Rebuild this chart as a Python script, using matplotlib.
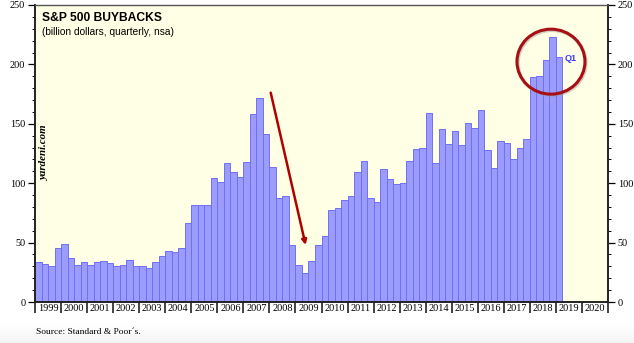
"""S&P 500 buybacks, quarterly bars 1999Q1-2019Q1 (yardeni style)."""
import numpy as np
import matplotlib.pyplot as plt
import matplotlib.patches as mpatches

# quarterly values, billion dollars
buybacks = [
    34.0, 31.7, 30.3, 45.2,      # 1999
    48.6, 37.4, 30.9, 33.7,      # 2000
    31.5, 33.7, 34.6, 32.9,      # 2001
    30.6, 30.9, 35.1, 30.6,      # 2002
    30.1, 28.4, 34.0, 38.5,      # 2003
    43.0, 42.4, 45.8, 66.3,      # 2004
    82.0, 81.5, 81.5, 104.5,     # 2005
    100.6, 116.6, 109.8, 105.1,  # 2006
    117.7, 158.0, 172.0, 141.7,  # 2007
    114.0, 87.9, 89.6, 48.3,     # 2008
    30.9, 24.2, 34.8, 48.0,      # 2009
    55.3, 77.5, 79.5, 86.2,      # 2010
    89.6, 109.3, 118.3, 87.6,    # 2011
    84.3, 111.8, 103.7, 99.4,    # 2012
    100.5, 118.4, 128.5, 129.9,  # 2013
    159.4, 116.6, 145.3, 133.2,  # 2014
    144.2, 132.1, 150.7, 146.2,  # 2015
    161.6, 127.9, 112.7, 135.8,  # 2016
    133.8, 120.6, 129.3, 137.5,  # 2017
    189.1, 190.5, 204.0, 223.3,  # 2018
    206.0,                       # 2019 Q1
]
years = list(range(1999, 2021))
start_year = 1999

bg = "#FFFFE5"
fig = plt.figure(figsize=(6.34, 3.43), dpi=100)

# faint grey fade along the bottom edge
fade = fig.add_axes([0, 0, 1, 20 / 343], zorder=-5)
fade.imshow(np.linspace(0, 1, 50).reshape(-1, 1), aspect="auto", cmap="Greys",
            vmin=0, vmax=12, origin="upper", extent=[0, 1, 0, 1])
fade.axis("off")

ax = fig.add_axes([35 / 634, 1 - 302 / 343, 573 / 634, 297 / 343])
ax.set_facecolor(bg)

x = start_year + (np.arange(len(buybacks)) + 0.5) / 4
ax.bar(x, buybacks, width=0.25, color="#9c9cff", edgecolor="#7070f6", linewidth=0.7)

ax.set_xlim(start_year, years[-1] + 1)
ax.set_ylim(0, 250)

serif = "Liberation Serif"
# x axis: tick marks at year boundaries, labels centered on each year
ax.set_xticks(list(years) + [years[-1] + 1])
ax.set_xticklabels([])
ax.set_xticks([y + 0.5 for y in years], minor=True)
ax.set_xticklabels([str(y) for y in years], minor=True, fontsize=7.4, family=serif)
ax.tick_params(axis="x", which="major", direction="out", length=8, width=1.2, color="#222222")
ax.tick_params(axis="x", which="minor", length=0, pad=1.5)

# y axis: both sides
ax.set_yticks(range(0, 251, 50))
ax.set_yticks(range(0, 251, 10), minor=True)
ax.tick_params(axis="y", which="major", direction="out", length=5, width=0.9,
               labelsize=7.4, left=True, right=True, labelleft=True, labelright=True, pad=2)
ax.tick_params(axis="y", which="minor", direction="out", length=2.5, width=0.7,
               left=True, right=True)
for lab in ax.get_yticklabels():
    lab.set_family(serif)

for side in ["left", "right", "bottom"]:
    ax.spines[side].set_linewidth(1.4)
    ax.spines[side].set_color("#222222")
ax.spines["top"].set_linewidth(1.0)
ax.spines["top"].set_color("#555555")

# titles
ax.text(0.012, 0.978, "S&P 500 BUYBACKS", transform=ax.transAxes, fontsize=8.7,
        fontweight="bold", family="Liberation Sans", va="top", ha="left")
ax.text(0.012, 0.925, "(billion dollars, quarterly, nsa)", transform=ax.transAxes,
        fontsize=7.3, family="Liberation Sans", va="top", ha="left")
ax.text(0.016, 0.50, "yardeni.com", transform=ax.transAxes, rotation=90, fontsize=7.8,
        family=serif, fontweight="bold", style="italic", ha="center", va="center")
fig.text(36 / 634, 1 - 332 / 343, "Source: Standard & Poor´s.", fontsize=6.8,
         family=serif, ha="left", va="center")

# annotations: red arrow into 2009 low, circle round the latest quarters
ax.annotate("", xy=(2009.39, 48.0), xytext=(2008.05, 176.2),
            arrowprops=dict(arrowstyle="-|>", color="#B00000", lw=1.8,
                            mutation_scale=7, shrinkA=0, shrinkB=0))
ax.add_patch(mpatches.Ellipse((2018.85, 201.3), 2.61, 54.7, fill=False,
                              edgecolor="#999999", lw=2.4, alpha=0.45, zorder=4))
ax.add_patch(mpatches.Ellipse((2018.81, 202.3), 2.61, 54.7, fill=False,
                              edgecolor="#A80F12", lw=2.2, zorder=5))
ax.text(2019.33, 205, "Q1", color="#3a3aff", fontsize=6.5, family="Liberation Sans",
        fontweight="bold", ha="left", va="center")

plt.savefig("out.png", dpi=100)
plt.close()
